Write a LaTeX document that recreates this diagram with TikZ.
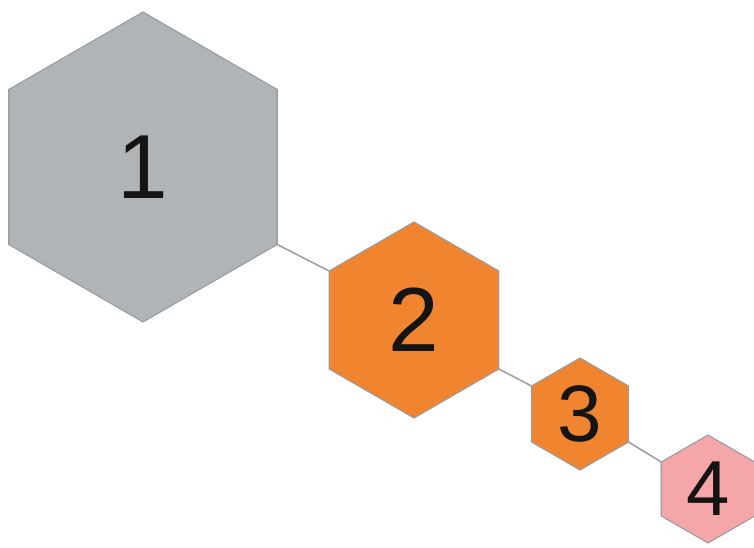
\documentclass[tikz,border=0pt]{standalone}
\usepackage{fontspec}
\setmainfont{Liberation Sans}
\usetikzlibrary{shapes.geometric}

\definecolor{hexgray}{HTML}{B0B4B7}
\definecolor{hexorange}{HTML}{F0842F}
\definecolor{hexpink}{HTML}{F5A6A8}
\definecolor{hexedge}{HTML}{9A9C9E}
\definecolor{digit}{HTML}{141414}

\tikzset{
  hexcell/.style={regular polygon, regular polygon sides=6, regular polygon rotate=30,
    draw=hexedge, line width=1.1pt, inner sep=0pt, outer sep=0pt, text=digit},
  hexlink/.style={draw=hexedge, line width=1.5pt}
}

\begin{document}
\begin{tikzpicture}[x=1pt, y=-1pt]
  \useasboundingbox (0,0) rectangle (754,548);

  \node[hexcell, fill=hexgray, minimum size=310pt, font=\fontsize{91}{91}\selectfont] (one) at (143,167) {1};
  \node[hexcell, fill=hexorange, minimum size=196pt, font=\fontsize{91}{91}\selectfont] (two) at (414,320) {2};
  \node[hexcell, fill=hexorange, minimum size=112pt, font=\fontsize{80}{80}\selectfont] (three) at (580,414) {3};
  \node[hexcell, fill=hexpink, minimum size=108pt, font=\fontsize{78}{78}\selectfont] (four) at (708,489) {4};

  % links between corners
  \draw[hexlink] (one.-30) -- (two.150);
  \draw[hexlink] (two.-30) -- (three.150);
  \draw[hexlink] (three.-30) -- (four.150);
\end{tikzpicture}
\end{document}
